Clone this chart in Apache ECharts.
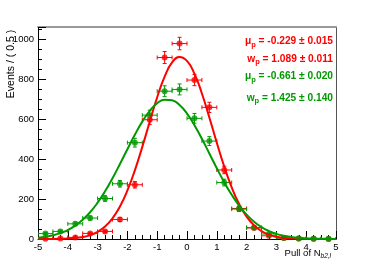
<!DOCTYPE html>
<html><head><meta charset="utf-8">
<script src="https://cdn.jsdelivr.net/npm/echarts@6/dist/echarts.min.js"></script>
<style>html,body{margin:0;padding:0;background:#fff}#c{width:374px;height:267px}</style>
</head><body><div id="c"></div>
<script>
// bin centres
var binX = [-4.75,-4.25,-3.75,-3.25,-2.75,-2.25,-1.75,-1.25,-0.75,-0.25,0.25,0.75,1.25,1.75,2.25,2.75,3.25,3.75,4.25,4.75];
var binHalfWidth = 0.25;
// red data (counts) and errors
var redY   = [1,3,8,28,38,98,272,598,910,980,797,660,346,153,55,16,5,2,1,0];
var redErr = [1,1.7,2.8,5.3,6.2,9.9,16.5,24.5,30.2,31.3,28.2,25.7,18.6,12.4,7.4,4,2.2,1.4,1,0];
// green data (counts) and errors
var greenY   = [27,38,76,105,203,277,483,621,741,750,605,491,283,150,58,25,5,2,1,1];
var greenErr = [5.2,6.2,8.7,10.2,14.2,16.6,22,24.9,27.2,27.4,24.6,22.2,16.8,12.2,7.6,5,2.2,1.4,1,1];
// fitted curves
var curveX = [-5,-4.75,-4.5,-4.25,-4,-3.75,-3.5,-3.25,-3,-2.75,-2.5,-2.25,-2,-1.75,-1.5,-1.25,-1,-0.75,-0.5,-0.25,0,0.25,0.5,0.75,1,1.25,1.5,1.75,2,2.25,2.5,2.75,3,3.25,3.5,3.75,4,4.25,4.5,4.75,5];
var redCurve = [0.1,0.2,0.4,1,2.3,4.9,10,19.5,35.9,62.6,103.8,163.2,243.4,344.3,462.1,588.3,710.6,814.3,885.2,912.8,893,828.8,729.8,609.5,483,363,258.9,175.1,112.4,68.4,39.5,21.7,11.3,5.6,2.6,1.2,0.5,0.2,0.1,0,0];
var greenCurve = [6.8,11.4,18.6,29.4,45,66.8,96.2,134.4,182,239,304.4,375.9,450.2,522.8,588.6,642.7,680.5,698.6,695.5,671.5,628.6,570.6,502.3,428.8,354.9,284.8,221.7,167.3,122.4,86.9,59.8,39.9,25.8,16.2,9.9,5.8,3.3,1.8,1,0.5,0.3];
var xTicks = [-5,-4,-3,-2,-1,0,1,2,3,4,5];
var yTicks = [0,200,400,600,800,1000];
var fitText = [
  {val:'-0.229', err:'0.015', color:'#ff0000', kind:'μ'},
  {val:'1.089', err:'0.011', color:'#ff0000', kind:'w'},
  {val:'-0.661', err:'0.020', color:'#009a00', kind:'μ'},
  {val:'1.425', err:'0.140', color:'#009a00', kind:'w'}
];

var RED='#ff0000', GREEN='#009a00';
var FONT='Liberation Sans, Arial, Helvetica, sans-serif';

function zip(xs, ys, es){ return xs.map(function(x,i){ return es ? [x, ys[i], es[i]] : [x, ys[i]]; }); }

function errRender(color){
  return function(params, api){
    var x = api.value(0), y = api.value(1), e = api.value(2);
    var l = api.coord([x - binHalfWidth, y]);
    var r = api.coord([x + binHalfWidth, y]);
    var t = api.coord([x, y + e]);
    var b = api.coord([x, y - e]);
    var c = 2;
    var st = {stroke: color, lineWidth: 1};
    var ch = [
      {type:'line', shape:{x1:l[0],y1:l[1],x2:r[0],y2:r[1]}, style:st},
      {type:'line', shape:{x1:l[0],y1:l[1]-c,x2:l[0],y2:l[1]+c}, style:st},
      {type:'line', shape:{x1:r[0],y1:r[1]-c,x2:r[0],y2:r[1]+c}, style:st}
    ];
    if (e > 0) {
      ch.push({type:'line', shape:{x1:t[0],y1:t[1],x2:b[0],y2:b[1]}, style:st});
      ch.push({type:'line', shape:{x1:t[0]-c,y1:t[1],x2:t[0]+c,y2:t[1]}, style:st});
      ch.push({type:'line', shape:{x1:b[0]-c,y1:b[1],x2:b[0]+c,y2:b[1]}, style:st});
    }
    return {type:'group', children: ch};
  };
}

var chart = echarts.init(document.getElementById('c'), null, {renderer:'canvas'});
var fitGraphics = fitText.map(function(f, i){
  var ys = [43, 60.5, 78, 99.5];
  return {
    type:'text', right: 41, top: ys[i] - 6.5, z: 10,
    style:{
      text: '{m|' + f.kind + '}{s|p}{m| = ' + f.val + ' ± ' + f.err + '}',
      fill: f.color,
      rich:{
        m:{fontSize:10.2, fontWeight:'bold', fontFamily:FONT, fill:f.color, verticalAlign:'top', lineHeight:13},
        s:{fontSize:7.5, fontWeight:'bold', fontFamily:FONT, fill:f.color, verticalAlign:'top', lineHeight:13, padding:[4,0,0,0]}
      }
    }
  };
});

var option = {
  animation:false,
  backgroundColor:'#fff',
  grid:{left:38, right:38, top:27, bottom:28, show:false},
  xAxis:[{
    type:'value', min:-5, max:5, interval:1,
    axisLine:{show:true, onZero:false, lineStyle:{color:'#000', width:1}},
    axisTick:{show:true, inside:true, length:8, lineStyle:{color:'#000'}},
    minorTick:{show:true, splitNumber:4, length:4, lineStyle:{color:'#000'}},
    splitLine:{show:false},
    axisLabel:{color:'#000', fontSize:9.5, fontFamily:FONT, margin:3,
      formatter:function(v){ return xTicks.indexOf(v)>=0 ? String(v) : ''; }}
  },{
    type:'value', min:-5, max:5, position:'top',
    axisLine:{show:true, onZero:false, lineStyle:{color:'#999', width:2}},
    axisTick:{show:false}, axisLabel:{show:false}, splitLine:{show:false}
  }],
  yAxis:[{
    type:'value', min:0, max:1063, interval:200,
    axisLine:{show:true, onZero:false, lineStyle:{color:'#000', width:1}},
    axisTick:{show:true, inside:true, length:8, lineStyle:{color:'#000'}},
    minorTick:{show:true, splitNumber:4, length:4, lineStyle:{color:'#000'}},
    splitLine:{show:false},
    axisLabel:{color:'#000', fontSize:9.5, fontFamily:FONT, margin:4,
      formatter:function(v){ return yTicks.indexOf(v)>=0 ? String(v) : ''; }}
  },{
    type:'value', min:0, max:1063, position:'right',
    axisLine:{show:true, onZero:false, lineStyle:{color:'#555', width:1}},
    axisTick:{show:false}, axisLabel:{show:false}, splitLine:{show:false}
  }],
  graphic: fitGraphics.concat([
    {type:'text', x: 11, y: 64, rotation: Math.PI/2, z:10,
      style:{text:'Events / ( 0.5 )', fontSize:10.5, fontFamily:FONT, fill:'#000', align:'center', verticalAlign:'middle'}},
    {type:'text', right: 43, top: 248, z:10,
      style:{text:'Pull of N{s|b2,l}', fontSize:9.5, fontFamily:FONT, fill:'#000',
        rich:{s:{fontSize:6.5, fontFamily:FONT, fontStyle:'italic', fill:'#000', padding:[6,0,0,0]}}}}
  ]),
  series:[
    {type:'custom', renderItem: errRender(RED), data: zip(binX, redY, redErr), encode:{x:0,y:1}, z:3, clip:true},
    {type:'scatter', data: zip(binX, redY), symbol:'circle', symbolSize:6, itemStyle:{color:RED}, z:4},
    {type:'custom', renderItem: errRender(GREEN), data: zip(binX, greenY, greenErr), encode:{x:0,y:1}, z:3, clip:true},
    {type:'scatter', data: zip(binX, greenY), symbol:'circle', symbolSize:6, itemStyle:{color:GREEN}, z:4},
    {type:'line', data: zip(curveX, redCurve), smooth:true, showSymbol:false, symbol:'none', lineStyle:{color:RED, width:2}, z:5},
    {type:'line', data: zip(curveX, greenCurve), smooth:true, showSymbol:false, symbol:'none', lineStyle:{color:GREEN, width:2}, z:5}
  ]
};
chart.setOption(option);
</script></body></html>
